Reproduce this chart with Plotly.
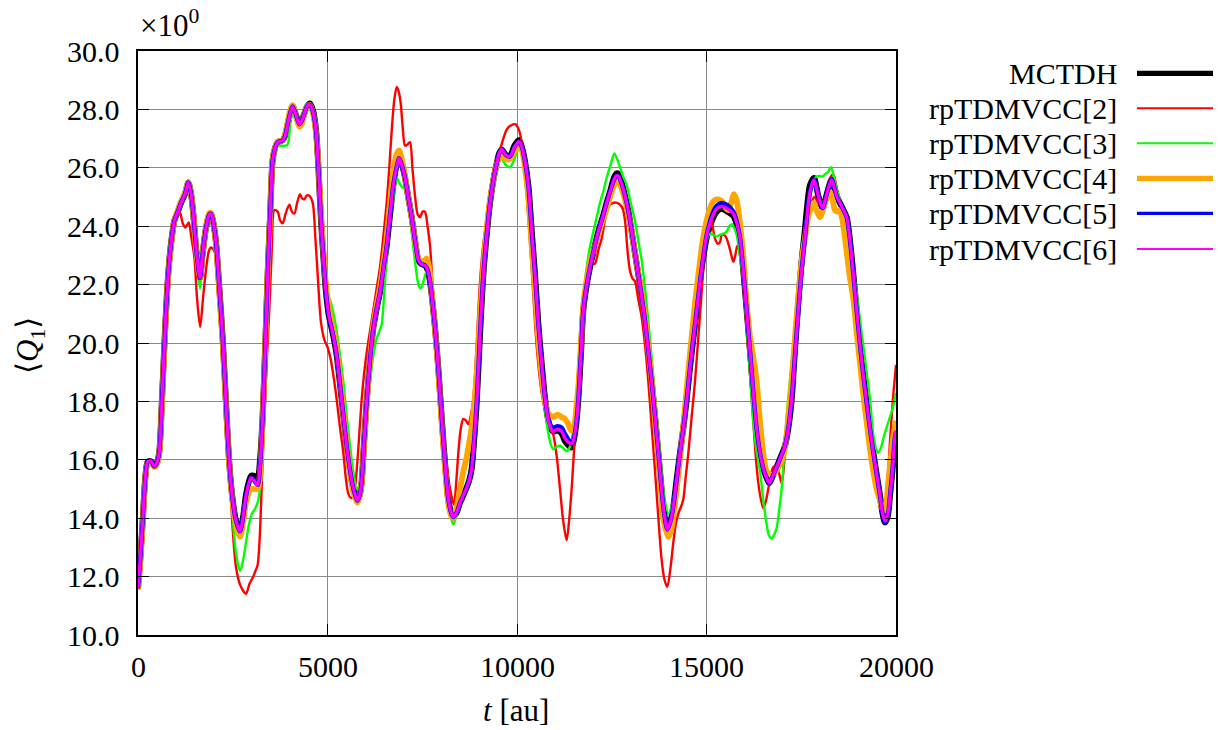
import plotly.graph_objects as go

# ---------------- data (t [au], <Q1>) ----------------
mctdh_pts = [
(0,11.6),(60,12.6),(123,13.9),(200,15.5),(255,15.93),(340,15.95),(430,15.78),(500,15.9),(563,16.3),(630,18.0),
(695,19.9),(760,21.6),(827,22.84),(900,23.7),(959,24.19),(1050,24.5),(1135,24.8),(1240,25.1),(1328,25.5),(1400,25.1),
(1460,24.4),(1550,23.0),(1636,22.23),(1700,23.0),(1794,23.94),(1880,24.4),(1926,24.43),(1990,24.1),(2058,23.45),(2150,21.8),
(2234,20.15),(2320,18.0),(2410,15.87),(2500,14.6),(2586,13.91),(2691,13.55),(2780,14.1),(2850,14.8),(2981,15.45),(3060,15.45),
(3157,15.4),(3220,16.0),(3289,17.5),(3360,20.0),(3421,22.35),(3490,24.5),(3553,26.27),(3620,26.7),(3685,26.88),(3817,26.94),
(3880,27.1),(3949,27.49),(4020,27.9),(4081,28.1),(4170,27.8),(4257,27.49),(4320,27.6),(4389,27.86),(4460,28.1),(4538,28.2),
(4620,27.95),(4697,27.3),(4760,26.0),(4829,24.2),(4900,22.8),(4960,21.74),(5040,20.9),(5092,20.6),(5160,20.2),(5240,19.6),
(5330,18.6),(5420,17.5),(5506,16.48),(5600,15.6),(5682,15.01),(5787,14.6),(5850,14.8),(5902,15.26),(5960,16.5),(6033,18.0),
(6120,19.4),(6209,20.52),(6300,21.2),(6385,21.74),(6470,22.5),(6561,23.33),(6650,24.4),(6737,25.41),(6820,26.1),(6887,26.4),
(6960,26.15),(7045,25.66),(7130,25.0),(7221,24.31),(7310,23.5),(7397,22.84),(7480,22.7),(7572,22.66),(7640,22.5),(7705,22.11),
(7770,21.4),(7837,20.52),(7920,19.2),(8012,17.46),(8100,15.9),(8188,14.65),(8260,14.2),(8320,14.04),(8410,14.2),(8496,14.53),
(8590,14.8),(8672,15.05),(8740,15.3),(8804,15.7),(8870,16.7),(8936,17.95),(9020,20.2),(9112,22.35),(9200,23.7),(9288,24.8),
(9380,25.6),(9464,26.14),(9530,26.5),(9595,26.63),(9700,26.45),(9815,26.39),(9930,26.75),(10053,26.95),(10130,26.7),(10200,26.3),
(10299,25.4),(10390,23.8),(10475,22.35),(10560,20.7),(10651,19.3),(10740,18.1),(10827,17.34),(10900,17.05),(10958,16.97),(11070,17.0),
(11178,16.9),(11260,16.65),(11354,16.5),(11430,16.42),(11486,16.6),(11560,17.2),(11618,18.07),(11690,19.7),(11750,21.13),(11840,22.0),
(11926,22.6),(12030,23.2),(12146,23.82),(12260,24.3),(12366,24.8),(12460,25.2),(12542,25.6),(12620,25.8),(12674,25.8),(12760,25.5),
(12850,25.04),(12940,24.5),(13025,23.82),(13110,23.1),(13201,22.35),(13290,21.6),(13377,20.76),(13460,19.8),(13553,18.68),(13640,17.5),
(13729,16.24),(13800,15.2),(13861,14.4),(13966,13.61),(14050,13.9),(14125,14.4),(14210,15.3),(14301,16.24),(14390,17.1),(14477,18.07),
(14560,19.1),(14652,20.15),(14740,21.1),(14828,22.11),(14910,22.9),(15004,23.6),(15090,24.0),(15180,24.3),(15268,24.5),(15400,24.6),
(15550,24.5),(15708,24.35),(15800,24.05),(15884,23.58),(15970,22.5),(16059,21.13),(16150,19.7),(16235,18.32),(16320,17.1),(16411,16.24),
(16500,15.7),(16587,15.38),(16657,15.2),(16750,15.45),(16851,15.75),(16960,16.1),(17071,16.48),(17160,17.1),(17247,18.07),(17335,19.8),
(17423,21.4),(17510,22.8),(17598,23.9),(17665,24.8),(17730,25.4),(17836,25.65),(17950,25.04),(18064,24.62),(18187,25.17),(18302,25.6),
(18434,25.04),(18566,24.68),(18698,24.31),(18760,23.8),(18830,22.96),(18920,21.7),(19006,20.52),(19110,19.2),(19226,17.95),(19310,17.1),
(19402,16.24),(19490,15.5),(19578,14.77),(19640,14.2),(19709,13.85),(19780,14.05),(19841,14.77),(19910,15.7),(19973,16.85),(20000,17.0)]

rp2_pts = [
(0,11.6),(60,12.6),(123,13.9),(200,15.5),(255,15.93),(340,15.95),(430,15.78),(500,15.9),(563,16.3),(630,18.0),
(695,19.9),(760,21.6),(827,22.84),(900,23.7),(959,24.15),(1040,24.45),(1108,24.45),(1180,24.1),(1249,23.95),(1337,24.13),
(1410,23.6),(1486,22.96),(1560,21.5),(1640,20.55),(1720,21.6),(1794,22.5),(1870,23.15),(1926,23.27),(1990,23.2),(2058,23.0),
(2150,21.6),(2234,20.0),(2320,17.9),(2410,15.8),(2500,13.6),(2586,12.32),(2700,11.7),(2850,11.41),(2940,11.75),(3026,11.96),
(3100,12.2),(3157,12.4),(3210,13.3),(3245,14.4),(3290,16.0),(3333,17.46),(3400,19.5),(3465,21.13),(3530,23.2),(3597,24.55),
(3685,24.5),(3750,24.2),(3817,24.1),(3900,24.45),(3993,24.74),(4060,24.5),(4125,24.43),(4200,24.8),(4274,25.1),(4330,24.95),
(4389,24.92),(4450,25.05),(4520,25.04),(4609,24.8),(4680,23.6),(4741,22.35),(4829,20.7),(4920,20.1),(5004,19.85),(5090,19.4),
(5166,18.8),(5242,18.07),(5330,17.1),(5418,16.24),(5490,15.3),(5550,14.83),(5610,14.7),(5664,14.71),(5720,15.0),(5770,15.63),
(5840,16.9),(5902,18.07),(5970,19.0),(6033,19.66),(6120,20.4),(6209,21.13),(6300,21.9),(6385,22.6),(6470,23.6),(6561,24.8),
(6630,26.0),(6693,27.25),(6760,28.3),(6825,28.77),(6880,28.6),(6931,28.22),(6990,27.3),(7045,26.76),(7110,26.8),(7177,26.88),
(7240,26.0),(7309,25.04),(7380,24.4),(7441,24.31),(7510,24.5),(7572,24.49),(7640,24.0),(7705,23.33),(7790,21.6),(7881,19.9),
(7970,18.3),(8056,16.85),(8145,15.8),(8232,15.01),(8338,14.46),(8400,15.3),(8452,16.24),(8520,17.1),(8584,17.4),(8650,17.35),
(8716,17.22),(8780,17.5),(8848,18.07),(8930,19.8),(9020,22.0),(9112,23.4),(9200,24.19),(9290,25.1),(9376,25.9),(9460,26.3),
(9552,26.63),(9640,27.0),(9728,27.31),(9840,27.45),(9965,27.49),(10050,27.3),(10120,26.9),(10200,26.0),(10300,24.3),(10400,22.3),
(10519,19.9),(10650,18.3),(10783,17.46),(10870,17.1),(10958,16.85),(11050,16.1),(11134,15.01),(11220,13.9),(11310,13.24),(11380,14.0),
(11442,15.01),(11490,16.0),(11530,16.85),(11600,18.1),(11680,19.9),(11750,21.13),(11840,22.0),(11926,22.6),(11990,22.7),(12058,22.72),
(12150,23.2),(12234,23.58),(12320,24.2),(12410,24.68),(12542,24.8),(12640,24.8),(12718,24.74),(12790,24.6),(12850,24.19),(12920,23.1),
(12982,22.47),(13050,22.2),(13113,22.11),(13200,21.5),(13289,20.89),(13380,19.9),(13465,18.68),(13550,17.2),(13641,15.63),(13730,14.0),
(13817,12.57),(13890,11.9),(13966,11.65),(14050,12.3),(14125,13.18),(14190,13.8),(14257,14.16),(14330,14.4),(14389,14.65),(14450,15.4),
(14521,16.24),(14610,17.5),(14696,18.68),(14790,20.3),(14872,21.74),(14940,23.1),(15004,24.31),(15050,24.45),(15092,24.43),(15160,24.0),
(15224,23.58),(15290,23.4),(15356,23.45),(15400,23.7),(15470,23.7),(15532,23.58),(15620,23.2),(15708,22.78),(15760,23.0),(15813,23.33),
(15880,23.1),(15970,22.0),(16059,20.5),(16150,18.9),(16235,17.3),(16320,15.8),(16400,14.9),(16499,14.34),(16570,14.6),(16631,15.01),
(16700,15.5),(16763,15.75),(16830,15.8),(16895,15.63),(16940,15.4),(16983,15.2),(17030,15.6),(17071,16.24),(17160,17.3),(17247,18.5),
(17335,20.0),(17423,21.5),(17510,22.8),(17598,23.7),(17680,24.4),(17760,24.8),(17850,25.0),(17950,24.8),(18064,24.6),(18187,25.3),
(18280,25.7),(18346,25.78),(18420,25.4),(18520,24.8),(18620,24.2),(18700,23.4),(18780,22.3),(18870,21.2),(18960,20.1),(19050,19.0),
(19140,17.9),(19226,17.0),(19310,16.2),(19402,15.5),(19490,14.9),(19578,14.4),(19650,14.15),(19709,14.16),(19780,15.3),(19840,16.6),
(19885,17.46),(19940,18.4),(20000,19.25)]

rp3_pts = [
(0,11.6),(60,12.6),(123,13.9),(200,15.5),(255,15.93),(340,15.95),(430,15.78),(500,15.9),(563,16.3),(630,18.0),
(695,19.9),(760,21.6),(827,22.84),(900,23.7),(959,24.19),(1050,24.5),(1135,24.8),(1240,25.1),(1328,25.45),(1400,25.05),
(1460,24.3),(1550,22.8),(1636,21.86),(1700,22.9),(1794,23.9),(1880,24.35),(1926,24.4),(1990,24.05),(2058,23.4),(2150,21.7),
(2234,20.0),(2320,17.8),(2410,15.7),(2470,14.6),(2530,13.5),(2586,12.81),(2650,12.35),(2700,12.2),(2780,12.6),(2850,13.18),
(2930,13.8),(3008,14.16),(3080,14.3),(3157,14.53),(3220,15.0),(3272,15.63),(3330,17.6),(3380,20.0),(3421,22.2),(3490,24.4),
(3553,26.1),(3620,26.55),(3685,26.75),(3750,26.75),(3817,26.76),(3880,26.75),(3949,26.8),(4020,27.5),(4081,27.9),(4170,27.7),
(4257,27.4),(4320,27.5),(4389,27.75),(4460,27.95),(4538,28.0),(4620,27.8),(4697,27.15),(4760,25.9),(4829,24.2),(4900,22.8),
(4960,21.9),(5030,21.6),(5092,21.37),(5160,21.0),(5242,20.4),(5330,19.6),(5418,18.68),(5506,17.5),(5594,16.48),(5680,15.6),
(5770,15.01),(5840,15.1),(5902,15.63),(5990,16.8),(6077,18.07),(6190,19.4),(6297,20.15),(6370,20.4),(6429,20.64),(6517,22.11),
(6580,23.2),(6649,24.19),(6740,25.0),(6825,25.66),(6890,25.5),(6957,25.35),(7020,25.3),(7089,25.29),(7150,24.7),(7221,23.82),
(7290,23.0),(7353,22.35),(7400,22.0),(7458,21.86),(7530,22.1),(7616,22.47),(7680,22.2),(7770,21.4),(7837,20.52),(7920,19.2),
(8012,17.46),(8100,15.9),(8188,14.6),(8260,14.0),(8320,13.79),(8410,14.1),(8496,14.5),(8590,14.8),(8672,15.1),(8740,15.4),
(8804,15.8),(8870,16.8),(8936,18.0),(9020,20.3),(9112,22.4),(9200,23.8),(9288,24.8),(9380,25.5),(9464,25.95),(9530,26.2),
(9595,26.3),(9700,26.1),(9815,26.02),(9900,26.2),(9991,26.51),(10053,26.7),(10130,26.5),(10200,26.1),(10299,25.3),(10390,23.8),
(10475,22.35),(10560,20.6),(10651,19.0),(10740,17.7),(10827,16.9),(10900,16.5),(10958,16.36),(11050,16.45),(11134,16.48),(11220,16.4),
(11310,16.3),(11400,16.45),(11486,16.85),(11560,17.4),(11618,18.3),(11690,20.0),(11750,21.4),(11840,22.6),(11926,23.3),(12030,23.9),
(12100,24.3),(12190,24.8),(12280,25.2),(12366,25.66),(12470,26.1),(12568,26.49),(12640,26.3),(12718,26.02),(12800,25.7),(12894,25.41),
(13000,24.8),(13113,24.19),(13200,23.5),(13289,22.84),(13400,21.6),(13509,20.15),(13640,18.2),(13773,16.24),(13880,14.8),(13993,14.16),
(14080,14.4),(14169,15.01),(14280,16.2),(14389,17.46),(14480,18.4),(14565,19.3),(14652,20.3),(14740,21.3),(14828,22.3),(14910,23.0),
(15004,23.5),(15092,23.75),(15180,23.7),(15268,23.65),(15356,23.7),(15450,23.75),(15532,23.82),(15600,24.0),(15664,24.07),(15730,23.95),
(15796,23.7),(15880,23.0),(15972,22.11),(16059,20.6),(16150,18.9),(16235,17.3),(16320,16.3),(16411,15.63),(16500,14.6),(16587,13.79),
(16650,13.4),(16719,13.3),(16790,13.45),(16851,13.67),(16920,14.3),(16983,15.01),(17050,16.2),(17115,17.46),(17200,18.7),(17291,19.9),
(17380,21.1),(17467,22.35),(17550,23.3),(17643,24.19),(17730,24.9),(17818,25.53),(17900,25.7),(17994,25.72),(18060,25.7),(18126,25.78),
(18200,25.85),(18284,26.02),(18360,25.7),(18434,25.29),(18520,24.9),(18610,24.43),(18700,23.9),(18786,23.33),(18870,22.6),(18962,21.74),
(19050,20.8),(19138,19.9),(19226,19.0),(19314,18.07),(19360,17.4),(19402,16.85),(19470,16.4),(19534,16.24),(19600,16.4),(19665,16.73),
(19750,17.1),(19841,17.46),(19920,17.8),(20000,18.3)]

rp4_pts = [
(0,11.55),(60,12.5),(123,13.8),(200,15.45),(255,15.9),(340,15.92),(430,15.75),(500,15.85),(563,16.25),(630,17.9),
(695,19.8),(760,21.5),(827,22.8),(900,23.65),(959,24.2),(1050,24.55),(1135,24.85),(1240,25.15),(1328,25.5),(1400,25.1),
(1460,24.4),(1550,23.0),(1636,22.25),(1700,23.0),(1794,23.95),(1880,24.45),(1926,24.45),(1990,24.1),(2058,23.4),(2150,21.7),
(2234,20.0),(2320,17.9),(2410,15.8),(2500,14.5),(2586,13.75),(2691,13.36),(2780,13.9),(2850,14.55),(2981,15.0),(3060,15.0),
(3157,15.0),(3220,15.6),(3289,17.4),(3360,20.0),(3421,22.35),(3490,24.5),(3553,26.3),(3620,26.7),(3685,26.9),(3817,26.95),
(3880,27.15),(3949,27.55),(4020,28.0),(4081,28.15),(4170,27.75),(4257,27.4),(4320,27.5),(4389,27.85),(4460,28.1),(4538,28.15),
(4620,27.85),(4697,27.2),(4760,26.1),(4829,24.4),(4900,23.0),(4960,22.0),(5040,21.2),(5092,20.8),(5160,20.4),(5240,19.8),
(5330,18.8),(5420,17.6),(5506,16.5),(5600,15.5),(5682,14.9),(5787,14.53),(5850,14.75),(5902,15.2),(5960,16.4),(6033,17.9),
(6120,19.4),(6209,20.6),(6300,21.3),(6385,21.9),(6470,22.7),(6561,23.6),(6650,24.8),(6737,25.9),(6820,26.45),(6887,26.6),
(6960,26.3),(7045,25.7),(7130,25.0),(7221,24.3),(7310,23.5),(7397,22.9),(7480,22.8),(7572,22.84),(7616,22.9),(7680,22.6),
(7750,21.7),(7837,20.5),(7920,19.1),(8012,17.3),(8100,15.7),(8188,14.5),(8260,14.1),(8320,14.0),(8410,14.4),(8496,15.0),
(8584,15.6),(8672,16.1),(8740,16.6),(8804,17.1),(8870,17.9),(8936,18.9),(9020,20.8),(9112,22.6),(9200,23.9),(9288,24.9),
(9380,25.6),(9464,26.1),(9530,26.35),(9595,26.45),(9700,26.3),(9815,26.3),(9930,26.55),(10053,26.8),(10130,26.6),(10200,26.1),
(10299,25.0),(10390,23.3),(10475,21.8),(10560,20.2),(10651,18.9),(10740,18.0),(10827,17.6),(10900,17.5),(10958,17.46),(11070,17.55),
(11178,17.46),(11260,17.4),(11354,17.22),(11430,17.0),(11500,17.1),(11560,17.7),(11618,18.5),(11690,20.0),(11750,21.3),(11840,22.2),
(11926,22.8),(12030,23.2),(12146,23.7),(12260,24.2),(12366,24.6),(12460,25.0),(12542,25.35),(12620,25.55),(12674,25.55),(12760,25.3),
(12850,24.9),(12940,24.4),(13025,23.8),(13110,23.1),(13201,22.4),(13290,21.7),(13377,20.9),(13460,19.9),(13553,18.7),(13640,17.4),
(13729,16.0),(13800,14.9),(13861,14.0),(13993,13.36),(14070,13.6),(14150,14.3),(14240,15.3),(14330,16.4),(14420,17.6),(14510,18.9),
(14600,20.1),(14700,21.4),(14800,22.5),(14900,23.5),(15004,24.2),(15090,24.6),(15180,24.85),(15268,24.92),(15350,24.9),(15444,24.8),
(15520,24.6),(15576,24.55),(15650,24.8),(15725,25.1),(15790,24.9),(15840,24.55),(15900,23.9),(15972,22.96),(16060,21.4),(16150,20.2),
(16235,19.5),(16323,18.68),(16411,17.3),(16500,16.2),(16587,15.6),(16675,15.5),(16760,15.5),(16851,15.63),(16940,15.85),(17027,16.12),
(17100,16.7),(17159,17.46),(17247,18.7),(17335,20.2),(17423,21.6),(17510,22.8),(17598,23.6),(17700,24.4),(17818,24.8),(17900,24.55),
(17994,24.31),(18060,24.5),(18126,24.8),(18258,25.17),(18330,24.9),(18390,24.55),(18460,24.5),(18522,24.55),(18600,24.1),(18700,23.1),
(18790,22.2),(18874,21.5),(18960,20.4),(19050,19.3),(19140,18.2),(19226,17.3),(19310,16.4),(19402,15.6),(19490,15.0),(19578,14.6),
(19650,14.3),(19709,14.28),(19780,15.0),(19850,15.9),(19930,16.8),(20000,17.34)]

rp5_pts = [
(0,11.6),(60,12.6),(123,13.9),(200,15.5),(255,15.93),(340,15.95),(430,15.78),(500,15.9),(563,16.3),(630,18.0),
(695,19.9),(760,21.6),(827,22.84),(900,23.7),(959,24.19),(1050,24.5),(1135,24.8),(1240,25.1),(1328,25.5),(1400,25.1),
(1460,24.4),(1550,23.0),(1636,22.23),(1700,23.0),(1794,23.94),(1880,24.4),(1926,24.43),(1990,24.1),(2058,23.45),(2150,21.8),
(2234,20.15),(2320,18.0),(2410,15.87),(2500,14.6),(2586,13.91),(2691,13.55),(2780,14.1),(2850,14.77),(2981,15.38),(3060,15.3),
(3157,15.14),(3220,15.8),(3289,17.46),(3360,20.0),(3421,22.35),(3490,24.5),(3553,26.27),(3620,26.7),(3685,26.88),(3817,26.94),
(3880,27.1),(3949,27.49),(4020,27.9),(4081,28.1),(4170,27.8),(4257,27.49),(4320,27.6),(4389,27.86),(4460,28.1),(4538,28.16),
(4620,27.9),(4697,27.25),(4760,26.0),(4829,24.2),(4900,22.8),(4960,21.74),(5040,20.9),(5092,20.6),(5160,20.2),(5240,19.6),
(5330,18.6),(5420,17.5),(5506,16.48),(5600,15.6),(5682,15.01),(5787,14.6),(5850,14.8),(5902,15.26),(5960,16.5),(6033,18.0),
(6120,19.4),(6209,20.52),(6300,21.2),(6385,21.74),(6470,22.5),(6561,23.33),(6650,24.4),(6737,25.41),(6820,26.0),(6887,26.33),
(6960,26.1),(7045,25.66),(7130,25.0),(7221,24.31),(7310,23.5),(7397,22.84),(7480,22.7),(7572,22.66),(7640,22.5),(7705,22.11),
(7770,21.4),(7837,20.52),(7920,19.2),(8012,17.46),(8100,15.9),(8188,14.65),(8260,14.2),(8320,14.04),(8410,14.2),(8496,14.53),
(8590,14.8),(8672,15.05),(8740,15.3),(8804,15.7),(8870,16.7),(8936,17.95),(9020,20.2),(9112,22.35),(9200,23.7),(9288,24.8),
(9380,25.6),(9464,26.14),(9530,26.5),(9595,26.63),(9700,26.45),(9815,26.39),(9930,26.7),(10053,26.9),(10130,26.7),(10200,26.3),
(10299,25.4),(10390,23.8),(10475,22.35),(10560,20.7),(10651,19.3),(10740,18.1),(10827,17.4),(10900,17.15),(10958,17.1),(11070,17.15),
(11178,17.1),(11260,16.9),(11354,16.7),(11430,16.55),(11486,16.65),(11560,17.2),(11618,18.07),(11690,19.7),(11750,21.13),(11840,22.0),
(11926,22.6),(12030,23.2),(12146,23.82),(12260,24.3),(12366,24.8),(12460,25.2),(12542,25.53),(12620,25.72),(12674,25.72),(12760,25.45),
(12850,25.04),(12940,24.5),(13025,23.82),(13110,23.1),(13201,22.35),(13290,21.6),(13377,20.76),(13460,19.8),(13553,18.68),(13640,17.5),
(13729,16.24),(13800,15.2),(13861,14.4),(13966,13.61),(14050,13.9),(14125,14.4),(14210,15.3),(14301,16.24),(14390,17.1),(14477,18.07),
(14560,19.1),(14652,20.15),(14740,21.1),(14828,22.11),(14910,22.9),(15004,23.7),(15090,24.15),(15180,24.5),(15268,24.7),(15400,24.8),
(15550,24.72),(15708,24.5),(15800,24.15),(15884,23.6),(15970,22.5),(16059,21.13),(16150,19.7),(16235,18.32),(16320,17.1),(16411,16.24),
(16500,15.7),(16587,15.38),(16657,15.2),(16750,15.45),(16851,15.75),(16960,16.1),(17071,16.48),(17160,17.1),(17247,18.07),(17335,19.6),
(17423,21.13),(17510,22.5),(17598,23.58),(17665,24.5),(17730,25.17),(17836,25.59),(17950,25.04),(18064,24.62),(18187,25.17),(18302,25.59),
(18434,25.04),(18566,24.68),(18698,24.31),(18760,23.8),(18830,22.96),(18920,21.7),(19006,20.52),(19110,19.2),(19226,17.95),(19310,17.1),
(19402,16.24),(19490,15.5),(19578,14.77),(19640,14.2),(19709,13.85),(19780,14.05),(19841,14.77),(19910,15.7),(19973,16.8),(20000,16.95)]

rp6_pts = [
(0,11.6),(60,12.6),(123,13.9),(200,15.5),(255,15.93),(340,15.95),(430,15.78),(500,15.9),(563,16.3),(630,18.0),
(695,19.9),(760,21.6),(827,22.84),(900,23.7),(959,24.19),(1050,24.5),(1135,24.8),(1240,25.1),(1328,25.5),(1400,25.1),
(1460,24.4),(1550,23.0),(1636,22.23),(1700,23.0),(1794,23.94),(1880,24.4),(1926,24.43),(1990,24.1),(2058,23.45),(2150,21.8),
(2234,20.15),(2320,18.0),(2410,15.87),(2500,14.6),(2586,13.91),(2691,13.55),(2780,14.1),(2850,14.77),(2981,15.38),(3060,15.3),
(3157,15.14),(3220,15.8),(3289,17.46),(3360,20.0),(3421,22.35),(3490,24.5),(3553,26.27),(3620,26.7),(3685,26.88),(3817,26.94),
(3880,27.1),(3949,27.49),(4020,27.9),(4081,28.1),(4170,27.8),(4257,27.49),(4320,27.6),(4389,27.86),(4460,28.1),(4538,28.16),
(4620,27.9),(4697,27.25),(4760,26.0),(4829,24.2),(4900,22.8),(4960,21.74),(5040,20.9),(5092,20.6),(5160,20.2),(5240,19.6),
(5330,18.6),(5420,17.5),(5506,16.48),(5600,15.6),(5682,15.01),(5787,14.6),(5850,14.8),(5902,15.26),(5960,16.5),(6033,18.0),
(6120,19.4),(6209,20.52),(6300,21.2),(6385,21.74),(6470,22.5),(6561,23.33),(6650,24.4),(6737,25.41),(6820,26.0),(6887,26.33),
(6960,26.1),(7045,25.66),(7130,25.0),(7221,24.31),(7310,23.5),(7397,22.84),(7480,22.7),(7572,22.66),(7640,22.5),(7705,22.11),
(7770,21.4),(7837,20.52),(7920,19.2),(8012,17.46),(8100,15.9),(8188,14.65),(8260,14.2),(8320,14.04),(8410,14.2),(8496,14.53),
(8590,14.8),(8672,15.05),(8740,15.3),(8804,15.7),(8870,16.7),(8936,17.95),(9020,20.2),(9112,22.35),(9200,23.7),(9288,24.8),
(9380,25.6),(9464,26.14),(9530,26.5),(9595,26.63),(9700,26.45),(9815,26.39),(9930,26.7),(10053,26.9),(10130,26.7),(10200,26.3),
(10299,25.4),(10390,23.8),(10475,22.35),(10560,20.7),(10651,19.3),(10740,18.1),(10827,17.34),(10900,17.05),(10958,16.97),(11070,17.05),
(11178,16.97),(11260,16.75),(11354,16.6),(11430,16.55),(11486,16.65),(11560,17.2),(11618,18.07),(11690,19.7),(11750,21.13),(11840,22.0),
(11926,22.6),(12030,23.2),(12146,23.82),(12260,24.3),(12366,24.8),(12460,25.2),(12542,25.53),(12620,25.72),(12674,25.72),(12760,25.45),
(12850,25.04),(12940,24.5),(13025,23.82),(13110,23.1),(13201,22.35),(13290,21.6),(13377,20.76),(13460,19.8),(13553,18.68),(13640,17.5),
(13729,16.24),(13800,15.2),(13861,14.4),(13966,13.61),(14050,13.9),(14125,14.4),(14210,15.3),(14301,16.24),(14390,17.1),(14477,18.07),
(14560,19.1),(14652,20.15),(14740,21.1),(14828,22.11),(14910,22.9),(15004,23.7),(15090,24.1),(15180,24.4),(15268,24.6),(15400,24.68),
(15550,24.6),(15708,24.43),(15800,24.1),(15884,23.58),(15970,22.5),(16059,21.13),(16150,19.7),(16235,18.32),(16320,17.1),(16411,16.24),
(16500,15.7),(16587,15.38),(16657,15.2),(16750,15.45),(16851,15.75),(16960,16.1),(17071,16.48),(17160,17.1),(17247,18.07),(17335,19.6),
(17423,21.13),(17510,22.5),(17598,23.58),(17665,24.5),(17730,25.17),(17836,25.59),(17950,25.04),(18064,24.62),(18187,25.17),(18302,25.59),
(18434,25.04),(18566,24.68),(18698,24.31),(18760,23.8),(18830,22.96),(18920,21.7),(19006,20.52),(19110,19.2),(19226,17.95),(19310,17.1),
(19402,16.24),(19490,15.5),(19578,14.77),(19640,14.2),(19709,13.91),(19780,14.1),(19841,14.77),(19910,15.7),(19973,16.85),(20000,17.0)]

series_names = ["MCTDH", "rpTDMVCC[2]", "rpTDMVCC[3]", "rpTDMVCC[4]", "rpTDMVCC[5]", "rpTDMVCC[6]"]
series_data = [mctdh_pts, rp2_pts, rp3_pts, rp4_pts, rp5_pts, rp6_pts]
series_colors = ["#000000", "#ff0000", "#00ff00", "#ffa500", "#0000ff", "#ff00ff"]
plot_widths = [6.0, 2.4, 2.4, 5.8, 4.4, 3.2]
legend_widths = [5.3, 2.0, 2.0, 5.3, 3.3, 2.0]

x_ticks = [0, 5000, 10000, 15000, 20000]
y_ticks = [10, 12, 14, 16, 18, 20, 22, 24, 26, 28, 30]
x_ticklabels = ["0", "5000", "10000", "15000", "20000"]
y_ticklabels = ["10.0", "12.0", "14.0", "16.0", "18.0", "20.0", "22.0", "24.0", "26.0", "28.0", "30.0"]

FONT = "Liberation Serif, Times New Roman, DejaVu Serif, serif"

# ---------------- figure ----------------
fig = go.Figure()
for name, pts, col, w in zip(series_names, series_data, series_colors, plot_widths):
    fig.add_trace(go.Scatter(
        x=[p[0] for p in pts], y=[p[1] for p in pts], name=name, mode="lines",
        line=dict(color=col, width=w, shape="spline", smoothing=0.8),
        showlegend=False, hoverinfo="skip"))

L, R, T, B = 138, 322, 51, 95
W, H = 1218, 730
pw, ph = W - L - R, H - T - B

def px_x(px):
    return (px - L) / pw

def px_y(py):
    return (H - B - py) / ph

annotations = []
shapes = []
row_y = [73.3, 108.3, 143.3, 178.3, 213.3, 249.0]
for name, col, lw, ry in zip(series_names, series_colors, legend_widths, row_y):
    annotations.append(dict(x=px_x(1119), y=px_y(ry), xref="paper", yref="paper",
                            text=name, showarrow=False, xanchor="right", yanchor="middle",
                            font=dict(family=FONT, size=30, color="black")))
    shapes.append(dict(type="line", xref="paper", yref="paper",
                       x0=px_x(1137), x1=px_x(1213), y0=px_y(ry), y1=px_y(ry),
                       line=dict(color=col, width=lw)))

# tick labels (drawn as text at the axis tick positions)
for v, lab in zip(y_ticks, y_ticklabels):
    annotations.append(dict(x=px_x(122), y=v, xref="paper", yref="y", text=lab,
                            showarrow=False, xanchor="right", yanchor="middle",
                            font=dict(family=FONT, size=30, color="black")))
for v, lab in zip(x_ticks, x_ticklabels):
    annotations.append(dict(x=v, y=px_y(666), xref="x", yref="paper", text=lab,
                            showarrow=False, xanchor="center", yanchor="middle",
                            font=dict(family=FONT, size=30, color="black")))

annotations.append(dict(x=px_x(138), y=px_y(24), xref="paper", yref="paper",
                        text="×10<sup>0</sup>", showarrow=False, xanchor="left", yanchor="middle",
                        font=dict(family=FONT, size=31, color="black")))
annotations.append(dict(x=px_x(30), y=px_y(345), xref="paper", yref="paper",
                        text="⟨<i>Q</i><sub>1</sub>⟩", showarrow=False, textangle=-90,
                        xanchor="center", yanchor="middle",
                        font=dict(family=FONT, size=31, color="black")))
annotations.append(dict(x=px_x(516), y=px_y(710), xref="paper", yref="paper",
                        text="<i>t</i> [au]", showarrow=False, xanchor="center", yanchor="middle",
                        font=dict(family=FONT, size=31, color="black")))

axis_common = dict(showgrid=True, gridcolor="#8a8a8a", gridwidth=1, zeroline=False,
                   showline=True, linecolor="black", linewidth=1.6, mirror="ticks",
                   ticks="inside", ticklen=11, tickwidth=1.4, tickcolor="black",
                   showticklabels=False)

fig.update_layout(
    width=W, height=H,
    margin=dict(l=L, r=R, t=T, b=B, autoexpand=False),
    paper_bgcolor="white", plot_bgcolor="white",
    showlegend=False,
    font=dict(family=FONT),
    xaxis=dict(range=[0, 20000], tickvals=x_ticks, **axis_common),
    yaxis=dict(range=[10, 30], tickvals=y_ticks, **axis_common),
    annotations=annotations, shapes=shapes,
)

fig.write_html("out.html")
